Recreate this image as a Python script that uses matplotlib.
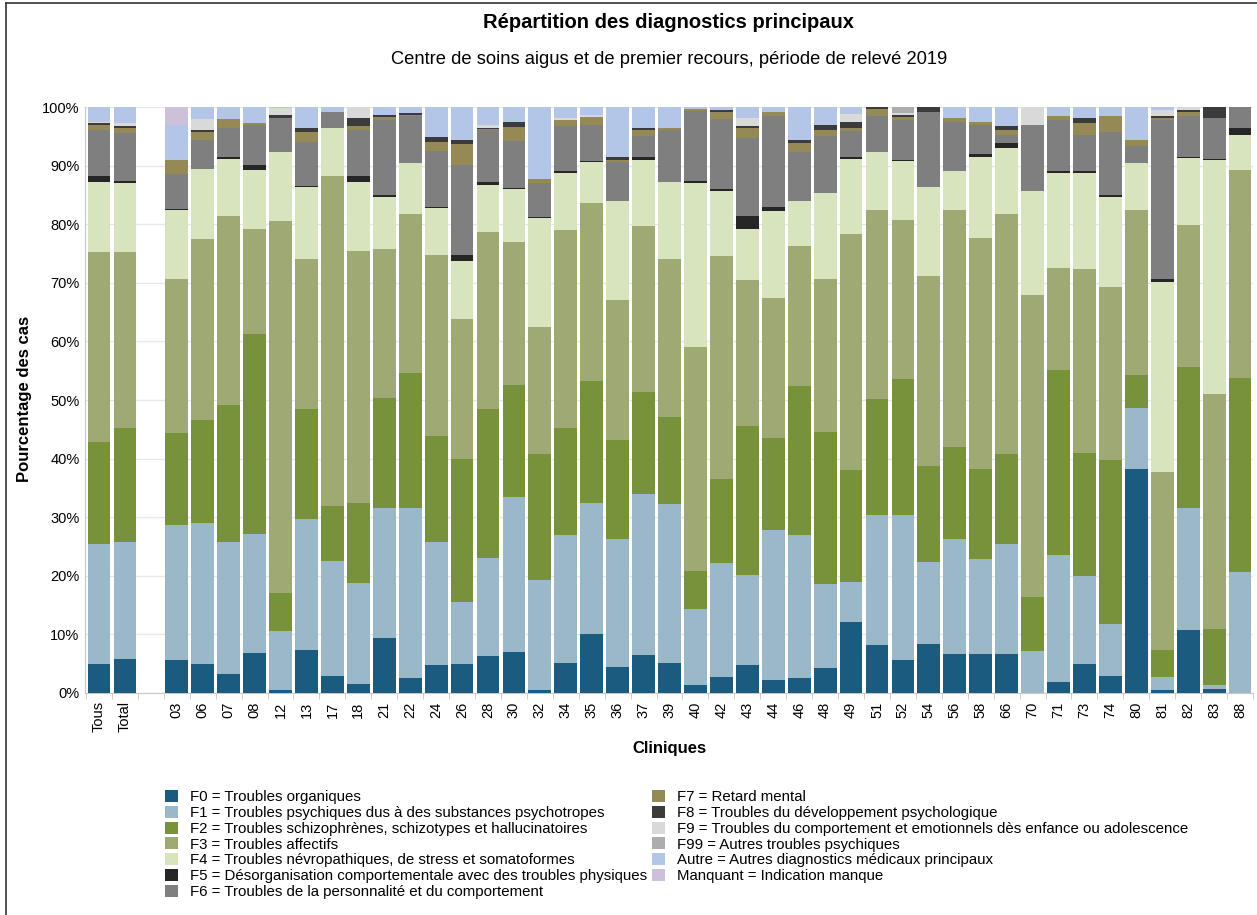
import matplotlib
matplotlib.use("Agg")
import matplotlib.pyplot as plt
from matplotlib.patches import Patch
import numpy as np

plt.rcParams['font.family'] = ['Liberation Sans', 'DejaVu Sans']

cliniques = ["Tous", "Total", "03", "06", "07", "08", "12", "13", "17", "18", "21", "22", "24", "26",
             "28", "30", "32", "34", "35", "36", "37", "39", "40", "42", "43", "44", "46", "48", "49",
             "51", "52", "54", "56", "58", "66", "70", "71", "73", "74", "80", "81", "82", "83", "88"]

categories = ["F0 = Troubles organiques",
              "F1 = Troubles psychiques dus à des substances psychotropes",
              "F2 = Troubles schizophrènes, schizotypes et hallucinatoires",
              "F3 = Troubles affectifs",
              "F4 = Troubles névropathiques, de stress et somatoformes",
              "F5 = Désorganisation comportementale avec des troubles physiques",
              "F6 = Troubles de la personnalité et du comportement",
              "F7 = Retard mental",
              "F8 = Troubles du développement psychologique",
              "F9 = Troubles du comportement et emotionnels dès enfance ou adolescence",
              "F99 = Autres troubles psychiques",
              "Autre = Autres diagnostics médicaux principaux",
              "Manquant = Indication manque"]

colors = ["#1b5b7f", "#9bb8c9", "#77923a", "#9ea973", "#d8e4bd", "#262626", "#7f7f7f",
          "#958a55", "#3b3b3b", "#d9d9d9", "#aeacac", "#b3c6e7", "#ccc0da"]

# percentages per clinic (order of cliniques)
F0 = [4.9, 5.8, 5.6, 5.0, 3.3, 6.9, 0.5, 7.3, 2.9, 1.5, 9.4, 2.5, 4.7, 5.0, 6.3, 7.0, 0.5, 5.1, 10.1, 4.4,
      6.4, 5.2, 1.3, 2.7, 4.8, 2.3, 2.6, 4.3, 12.1, 8.2, 5.6, 8.3, 6.6, 6.6, 6.6, 0.0, 1.8, 5.0, 2.9, 38.3,
      0.5, 10.8, 0.6, 0.0]
F1 = [20.5, 20.0, 23.1, 24.0, 22.5, 20.3, 10.1, 22.4, 19.6, 17.2, 22.1, 29.0, 21.0, 10.6, 16.8, 26.4, 18.7,
      21.9, 22.4, 21.8, 27.5, 27.0, 13.0, 19.4, 15.4, 25.6, 24.3, 14.3, 6.8, 22.2, 24.8, 14.0, 19.6, 16.3,
      18.8, 7.1, 21.7, 14.9, 8.9, 10.3, 2.2, 20.8, 0.7, 20.7]
F2 = [17.4, 19.4, 15.6, 17.6, 23.4, 34.1, 6.5, 18.7, 9.4, 13.7, 18.9, 23.1, 18.2, 24.3, 25.3, 19.2, 21.6,
      18.2, 20.8, 17.0, 17.4, 14.9, 6.6, 14.4, 25.3, 15.6, 25.5, 25.9, 19.2, 19.8, 23.1, 16.4, 15.7, 15.4,
      15.4, 9.3, 31.7, 21.1, 27.9, 5.7, 4.7, 24.1, 9.7, 33.1]
F3 = [32.5, 30.1, 26.3, 30.9, 32.2, 17.8, 63.4, 25.7, 56.3, 43.1, 25.3, 27.1, 30.9, 23.9, 30.3, 24.4, 21.7,
      33.8, 30.4, 23.8, 28.4, 27.0, 38.2, 38.0, 24.9, 23.9, 23.9, 26.2, 40.2, 32.3, 27.2, 32.5, 40.6, 39.4,
      40.9, 51.6, 17.4, 31.4, 29.6, 28.2, 30.3, 24.2, 40.1, 35.4]
F4 = [11.9, 11.7, 11.9, 12.0, 9.7, 10.2, 11.9, 12.2, 8.2, 11.7, 9.0, 8.7, 7.9, 9.9, 8.0, 9.0, 18.5,
      9.7, 6.9, 16.9, 11.3, 13.1, 27.9, 11.1, 8.8, 14.8, 7.7, 14.6, 12.8, 9.8, 10.0, 15.2, 6.6, 13.8,
      11.3, 17.7, 16.1, 16.3, 15.3, 8.0, 32.5, 11.4, 39.9, 6.0]
F5 = [1.1, 0.4, 0.1, 0.0, 0.4, 0.8, 0.0, 0.3, 0.0, 1.1, 0.3, 0.0, 0.2, 1.1, 0.5, 0.2, 0.2,
      0.4, 0.2, 0.0, 0.4, 0.0, 0.4, 0.4, 2.2, 0.7, 0.0, 0.0, 0.4, 0.0, 0.3, 0.0, 0.0, 0.4,
      0.8, 0.0, 0.4, 0.4, 0.4, 0.0, 0.4, 0.2, 0.1, 1.2]
F6 = [7.8, 8.1, 5.9, 4.9, 5.0, 6.8, 5.7, 7.4, 2.8, 7.7, 12.8, 8.0, 9.6, 15.3, 8.9, 8.0, 5.8,
      7.7, 6.1, 6.7, 3.7, 8.9, 11.9, 12.0, 13.3, 15.5, 8.4, 9.8, 4.4, 6.1, 6.8, 12.7, 8.3, 5.0,
      1.4, 11.3, 8.7, 6.2, 10.7, 2.9, 27.2, 7.0, 7.1, 3.6]
F7 = [0.9, 1.0, 2.5, 1.4, 1.5, 0.4, 0.0, 1.8, 0.0, 0.8, 0.5, 0.2, 1.5, 3.6, 0.1, 2.4, 0.7,
      1.0, 1.4, 0.4, 1.0, 0.3, 0.3, 1.1, 1.8, 0.7, 1.4, 1.0, 0.5, 1.3, 0.5, 0.0, 0.8, 0.6,
      0.8, 0.0, 0.6, 1.9, 2.8, 0.9, 0.4, 0.6, 0.0, 0.0]
F8 = [0.2, 0.3, 0.0, 0.3, 0.0, 0.0, 0.5, 0.6, 0.0, 1.4, 0.3, 0.3, 0.8, 0.7, 0.3, 0.8, 0.0,
      0.0, 0.0, 0.5, 0.3, 0.0, 0.0, 0.4, 0.3, 0.0, 0.6, 0.9, 1.1, 0.3, 0.3, 0.9, 0.0, 0.0,
      0.8, 0.0, 0.0, 1.0, 0.0, 0.0, 0.3, 0.4, 1.8, 0.0]
F9 = [0.2, 0.4, 0.0, 1.8, 0.0, 0.0, 1.2, 0.0, 0.0, 1.8, 0.0, 0.0, 0.0, 0.0, 0.4, 0.0, 0.0,
      0.4, 0.3, 0.0, 0.0, 0.0, 0.0, 0.0, 1.4, 0.0, 0.0, 0.0, 1.3, 0.0, 0.3, 0.0, 0.0, 0.0,
      0.0, 3.0, 0.0, 0.0, 0.0, 0.0, 1.0, 0.5, 0.0, 0.0]
F99 = [0.0, 0.0, 0.0, 0.0, 0.0, 0.0, 0.0, 0.0, 0.0, 0.0, 0.0, 0.0, 0.0, 0.0, 0.0, 0.0, 0.0,
       0.0, 0.0, 0.0, 0.0, 0.0, 0.0, 0.0, 0.0, 0.0, 0.0, 0.0, 0.0, 0.0, 1.1, 0.0, 0.0, 0.0,
       0.0, 0.0, 0.0, 0.0, 0.0, 0.0, 0.0, 0.0, 0.0, 0.0]
Autre = [2.6, 2.8, 5.9, 2.1, 2.0, 2.7, 0.2, 3.6, 0.8, 0.0, 1.4, 1.1, 5.2, 5.6, 3.1, 2.6, 12.3,
         1.8, 1.4, 8.5, 3.6, 3.6, 0.4, 0.5, 1.8, 0.9, 5.6, 3.0, 1.2, 0.0, 0.0, 0.0, 1.8, 2.5,
         3.2, 0.0, 1.6, 1.8, 1.5, 5.7, 0.5, 0.0, 0.0, 0.0]
Manquant = [0.0, 0.0, 3.1, 0.0, 0.0, 0.0, 0.0, 0.0, 0.0, 0.0, 0.0, 0.0, 0.0, 0.0, 0.0, 0.0, 0.0,
            0.0, 0.0, 0.0, 0.0, 0.0, 0.0, 0.0, 0.0, 0.0, 0.0, 0.0, 0.0, 0.0, 0.0, 0.0, 0.0, 0.0,
            0.0, 0.0, 0.0, 0.0, 0.0, 0.0, 0.0, 0.0, 0.0, 0.0]

series = [F0, F1, F2, F3, F4, F5, F6, F7, F8, F9, F99, Autre, Manquant]

# positions: empty slot after "Total"
pos = np.array([0, 1] + list(range(3, 3 + len(cliniques) - 2)), dtype=float)

W, H = 1257, 915
fig = plt.figure(figsize=(W / 100, H / 100), dpi=100)
ax = fig.add_axes([85 / W, (H - 693) / H, 1168 / W, 586 / H])

bottom = np.zeros(len(cliniques))
for vals, col in zip(series, colors):
    v = np.array(vals, dtype=float)
    ax.bar(pos, v, bottom=bottom, width=0.88, color=col, linewidth=0, zorder=3)
    bottom += v

ax.set_xlim(-0.54, 44.5)
ax.set_ylim(0, 100)
ax.set_yticks(np.arange(0, 101, 10))
ax.set_yticklabels([f"{t}%" for t in range(0, 101, 10)], fontsize=10.5)
ax.set_xticks(pos)
ax.set_xticklabels(cliniques, rotation=90, fontsize=10.5)
ax.tick_params(axis='x', length=0, pad=6)
ax.tick_params(axis='y', length=0, pad=4)
ax.set_xticks(np.arange(-0.5, 45, 1), minor=True)
ax.tick_params(axis='x', which='minor', length=4, color='#c8c8c8')
ax.grid(axis='y', color='#e8e8e8', linewidth=1, zorder=0)
for s in ['top', 'right']:
    ax.spines[s].set_visible(False)
for s in ['left', 'bottom']:
    ax.spines[s].set_color('#c8c8c8')

fig.text(669 / W, 1 - 22 / H, "Répartition des diagnostics principaux", ha='center', va='center',
         fontsize=14.5, fontweight='bold')
fig.text(669 / W, 1 - 60 / H, "Centre de soins aigus et de premier recours, période de relevé 2019",
         ha='center', va='center', fontsize=13.2)
fig.text(669 / W, 1 - 748 / H, "Cliniques", ha='center', va='center', fontsize=12, fontweight='bold')
fig.text(25 / W, 1 - 399 / H, "Pourcentage des cas", ha='center', va='center', rotation=90,
         fontsize=12, fontweight='bold')

handles = [Patch(facecolor=c, edgecolor='none') for c in colors]
common = dict(frameon=False, fontsize=10.8, handlelength=0.87, handleheight=0.87, handletextpad=0.78,
              labelspacing=0.1, borderpad=0, borderaxespad=0, loc='upper left')
fig.legend(handles[:7], categories[:7], bbox_to_anchor=(165 / W, 1 - 790 / H), **common)
fig.legend(handles[7:], categories[7:], bbox_to_anchor=(652 / W, 1 - 790 / H), **common)

# outer frame
fig.add_artist(plt.Line2D([6 / W, 6 / W], [0, 1 - 3 / H], color='#333333', lw=1.2))
fig.add_artist(plt.Line2D([6 / W, 1], [1 - 3 / H, 1 - 3 / H], color='#333333', lw=1.2))

fig.savefig("out.png", dpi=100)
